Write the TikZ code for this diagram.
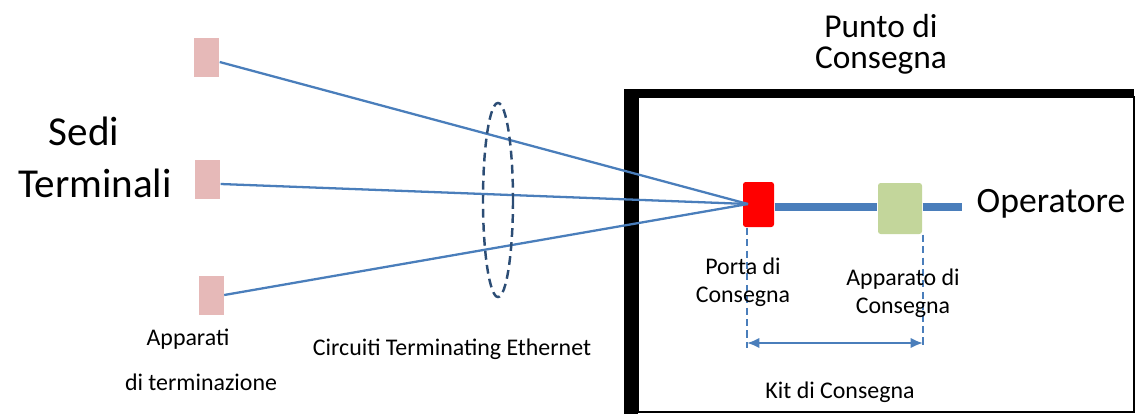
\documentclass[tikz,border=0pt]{standalone}
\usepackage{fontspec}
\setmainfont{Carlito}
\usetikzlibrary{arrows.meta}
\definecolor{kabelblau}{HTML}{4A7EBB}
\definecolor{rosa}{HTML}{E6B9B8}
\definecolor{gruen}{HTML}{C3D69B}
\definecolor{dunkelblau}{HTML}{2C4D75}
\tikzset{
  sede/.style={fill=rosa,minimum width=0.5cm,minimum height=0.78cm,inner sep=0pt},
  gross/.style={font=\fontsize{23.4}{29.5}\selectfont,align=center,inner sep=0pt},
  mittel/.style={font=\fontsize{19}{17.5}\selectfont,align=center,inner sep=0pt},
  klein/.style={font=\fontsize{13.6}{15.9}\selectfont,align=center,inner sep=0pt}
}
\begin{document}
\begin{tikzpicture}[x=0.02cm,y=-0.02cm,>={Latex[length=7pt,width=6pt]},thick]
\useasboundingbox (0,0) rectangle (1136,414);
\def\kabel#1#2{
\draw[kabelblau,line width=1.3pt] #1 -- #2;
}
% Rahmen
\fill (624,89) rectangle (638,414);
\fill (624,89) rectangle (1134,97);
\draw[line width=0.6pt] (638,97) rectangle (1134,412);
% Knoten
\node[sede] (sede1) at (206.5,57) {};
\node[sede] (sede2) at (207.5,179) {};
\node[sede] (sede3) at (211,295) {};
\node[fill=red,rounded corners=1.5pt,minimum width=0.62cm,minimum height=0.9cm,inner sep=0pt] (porta) at (758.5,204.5) {};
\node[fill=gruen,rounded corners=1.5pt,minimum width=0.88cm,minimum height=1.02cm,inner sep=0pt] (apparato) at (900,208.5) {};
\coordinate (hub) at (748,204);
\coordinate (ende) at (962,207);
\coordinate (kitL) at (747,348);
\coordinate (kitR) at (923,348);
% Kabel
\kabel{([yshift=-0.1cm]sede1.east)}{(hub)}
\kabel{([yshift=-0.1cm]sede2.east)}{(hub)}
\kabel{(sede3.east)}{(hub)}
\draw[kabelblau,line width=4pt] (porta.east |- ende) -- (apparato.west |- ende);
\draw[kabelblau,line width=4pt] (apparato.east |- ende) -- (ende);
%\draw[dunkelblau] (498,200) circle (97);
\draw[dunkelblau,line width=1.4pt,dash pattern=on 5pt off 3pt] (498,200) ellipse [x radius=15,y radius=97];
% Kit
\draw[kabelblau,line width=1.1pt,dash pattern=on 4pt off 2.5pt] (porta.south -| kitL) -- (kitL);
\draw[kabelblau,line width=1.1pt,dash pattern=on 4pt off 2.5pt] (apparato.south -| kitR) -- (kitR);
\draw[kabelblau,line width=1.3pt,<->] (kitL |- 0,343) -- (kitR |- 0,343);
% Texte
\node[gross,anchor=base] (sedi) at (95,197) {Sedi\hspace*{0.44cm}\\Terminali};
\node[mittel,anchor=base] (punto) at (881,68) {Punto di\\Consegna};
\node[font=\fontsize{20.3}{21}\selectfont,inner sep=0pt,anchor=base west] (operatore) at (976,212) {Operatore};
\node[klein,anchor=base] (apparati) at (188,345) {Apparati};
\node[klein,anchor=base] (terminazione) at (201,390) {di terminazione};
\node[klein,anchor=base] (circuiti) at (452,355) {Circuiti Terminating Ethernet};
\node[klein,anchor=base] (portatxt) at (743,302) {Porta di\\Consegna};
\node[klein,anchor=base] (apparatotxt) at (903,313) {Apparato di\\Consegna};
\node[klein,anchor=base] (kit) at (840,398) {Kit di Consegna};
\end{tikzpicture}
\end{document}
